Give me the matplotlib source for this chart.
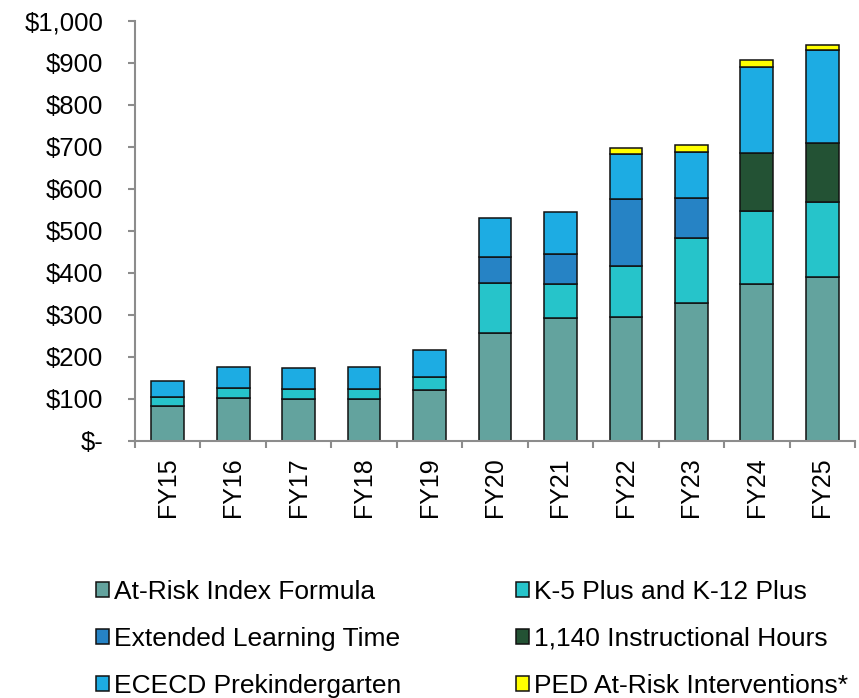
import numpy as np
import matplotlib
matplotlib.use("Agg")
import matplotlib.pyplot as plt
from matplotlib.ticker import FuncFormatter

plt.rcParams["font.family"] = ["Liberation Sans", "DejaVu Sans"]

# ── Data (millions of $) ───────────────────────────────────────
years    = ["FY15", "FY16", "FY17", "FY18", "FY19", "FY20",
            "FY21", "FY22", "FY23", "FY24", "FY25"]
at_risk  = [84, 102, 100, 100, 122, 257, 294, 296, 329, 375, 391]
k5_plus  = [21, 24, 23, 24, 31, 119, 80, 120, 155, 172, 178]
elt      = [0, 0, 0, 0, 0, 63, 72, 160, 95, 0, 0]
hours    = [0, 0, 0, 0, 0, 0, 0, 0, 0, 139, 140]
prek     = [39, 51, 52, 53, 64, 91, 99, 107, 110, 204, 222]
ped      = [0, 0, 0, 0, 0, 0, 0, 15, 15, 16, 11]

series = [
    ("At-Risk Index Formula",        at_risk, "#63A39E"),
    ("K-5 Plus and K-12 Plus",       k5_plus, "#26C4CA"),
    ("Extended Learning Time",       elt,     "#2683C5"),
    ("1,140 Instructional Hours",    hours,   "#235234"),
    ("ECECD Prekindergarten",        prek,    "#1DACE3"),
    ("PED At-Risk Interventions*",   ped,     "#FFFF00"),
]

# ── Plot ───────────────────────────────────────────────────────
fig = plt.figure(figsize=(8.59, 6.98), dpi=100)
ax = fig.add_axes([135 / 859, 1 - 441 / 698, 720 / 859, 420 / 698])

x = np.arange(len(years))
bottom = np.zeros(len(years))
handles = {}
for name, vals, col in series:
    vals = np.array(vals, dtype=float)
    mask = vals > 0
    bars = ax.bar(x[mask], vals[mask], 0.5, bottom=bottom[mask], color=col,
                  edgecolor="#111111", linewidth=1.1, label=name)
    handles[name] = bars
    bottom += vals

ax.set_xlim(-0.5, len(years) - 0.5)
ax.set_ylim(0, 1000)
ax.set_yticks(np.arange(0, 1001, 100))
ax.yaxis.set_major_formatter(FuncFormatter(
    lambda v, p: "$-" if v == 0 else f"${v:,.0f}"))

ax.set_xticks(x)
ax.set_xticklabels(years, rotation=90)
ax.set_xticks(np.arange(-0.5, len(years), 1), minor=True)

for s in ["top", "right"]:
    ax.spines[s].set_visible(False)
for s in ["left", "bottom"]:
    ax.spines[s].set_color("#8c8c8c")
    ax.spines[s].set_linewidth(1.5)

ax.tick_params(axis="y", length=5, width=1.5, color="#8c8c8c",
               labelsize=18.5, pad=18)
ax.tick_params(axis="x", which="major", length=0, labelsize=18, pad=12)
ax.tick_params(axis="x", which="minor", length=5, width=1.5, color="#8c8c8c")

# legend in two columns, row-major order
leg_kw = dict(loc="upper left", frameon=False, fontsize=19,
              handlelength=0.5, handleheight=0.5, handletextpad=0.2,
              labelspacing=0.87, borderpad=0, borderaxespad=0)
left_names  = ["At-Risk Index Formula", "Extended Learning Time", "ECECD Prekindergarten"]
right_names = ["K-5 Plus and K-12 Plus", "1,140 Instructional Hours", "PED At-Risk Interventions*"]
leg1 = fig.legend([handles[n] for n in left_names], left_names,
                  bbox_to_anchor=(96 / 859, 1 - 580 / 698), **leg_kw)
leg2 = fig.legend([handles[n] for n in right_names], right_names,
                  bbox_to_anchor=(516 / 859, 1 - 580 / 698), **leg_kw)

plt.savefig("out.png", dpi=100)
